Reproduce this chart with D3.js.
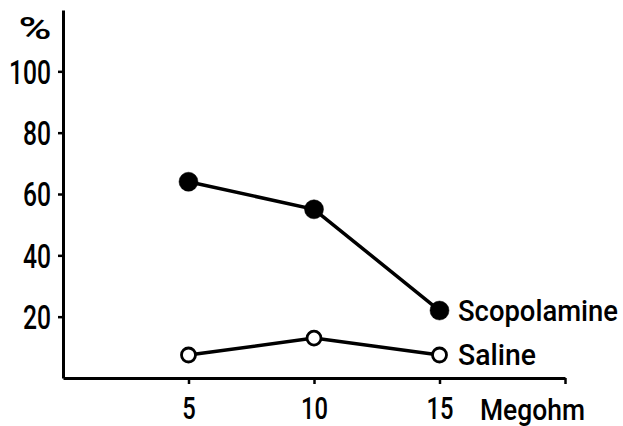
<!DOCTYPE html>
<html><head><meta charset="utf-8">
<script src="https://cdn.jsdelivr.net/npm/d3@7"></script>
<style>
html,body{margin:0;padding:0;background:#fff;}
svg text{font-family:Roboto,"Liberation Sans",sans-serif;fill:#000;font-weight:500;}
</style></head>
<body><svg id="c" width="623" height="426"></svg>
<script>
const doses = [5, 10, 15];
const scopolamine = [64, 55, 22];
const saline = [7.5, 13, 7.5];
const seriesNames = ["Scopolamine", "Saline"];
const yTicks = [20, 40, 60, 80, 100];
const xTicks = [5, 10, 15, 20];
const xTickLabels = ["5", "10", "15", ""];
const yUnit = "%";
const xUnit = "Megohm";

const svg = d3.select("#c");
const x = d3.scaleLinear().domain([0, 20]).range([63, 565]);
const y = d3.scaleLinear().domain([0, 120]).range([378, 10]);

// approximate condensed-font widths (px per character)
const narrow = (sel, perChar) => sel.attr("textLength", function () { return this.textContent.length * perChar; })
  .attr("lengthAdjust", "spacingAndGlyphs");

const yAxis = d3.axisLeft(y).tickValues(yTicks).tickSize(5).tickSizeOuter(0).tickPadding(6);
const gy = svg.append("g").attr("transform", "translate(63,0)").call(yAxis);
gy.select(".domain").attr("stroke-width", 3).attr("stroke", "#000");
gy.selectAll(".tick line").attr("stroke-width", 2.5).attr("stroke", "#000");
gy.selectAll(".tick text").attr("font-size", 33).attr("dy", "0.36em").attr("x", -12);
narrow(gy.selectAll(".tick text"), 14);

const xAxis = d3.axisBottom(x).tickValues(xTicks).tickFormat((d, i) => xTickLabels[i]).tickSize(6).tickSizeOuter(0).tickPadding(12);
const gx = svg.append("g").attr("transform", "translate(0,378)").call(xAxis);
gx.select(".domain").attr("stroke-width", 3).attr("stroke", "#000");
gx.selectAll(".tick line").attr("stroke-width", 2.5).attr("stroke", "#000");
gx.selectAll(".tick text").attr("font-size", 31).attr("dy", "0.71em").attr("y", 19);
narrow(gx.selectAll(".tick text").filter(function () { return this.textContent.length > 0; }), 13.5);

svg.append("text").attr("x", 35).attr("y", 39).attr("text-anchor", "middle").attr("font-size", 32)
  .attr("font-weight", "bold").attr("textLength", 33).attr("lengthAdjust", "spacingAndGlyphs").text(yUnit);
svg.append("text").attr("x", 480).attr("y", 420).attr("font-size", 30)
  .attr("textLength", 105).attr("lengthAdjust", "spacingAndGlyphs").text(xUnit);

const legendWidths = [160, 78];
const line = d3.line().x((d, i) => x(doses[i])).y(d => y(d));
[scopolamine, saline].forEach((vals, k) => {
  svg.append("path").attr("d", line(vals)).attr("fill", "none").attr("stroke", "#000").attr("stroke-width", 3.5);
  svg.selectAll(null).data(vals).enter().append("circle")
    .attr("cx", (d, i) => x(doses[i])).attr("cy", d => y(d))
    .attr("r", k === 0 ? 9.5 : 7)
    .attr("fill", k === 0 ? "#000" : "#fff")
    .attr("stroke", "#000").attr("stroke-width", k === 0 ? 0.5 : 2.8);
  svg.append("text").attr("x", 458).attr("y", y(vals[2]) + 10)
    .attr("font-size", 30).attr("textLength", legendWidths[k]).attr("lengthAdjust", "spacingAndGlyphs")
    .text(seriesNames[k]);
});
</script></body></html>
